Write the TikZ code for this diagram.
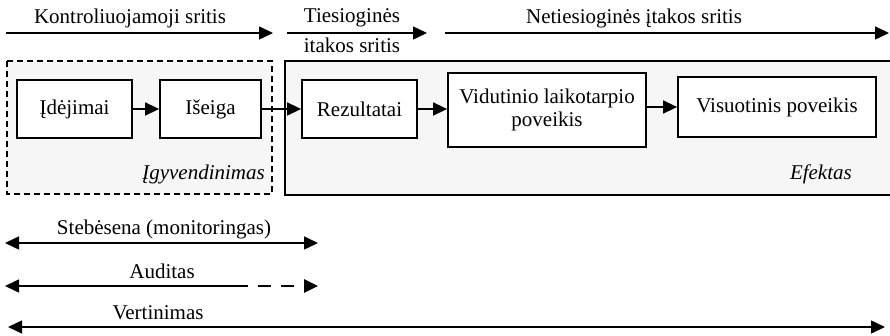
\documentclass[tikz,border=0pt]{standalone}
\usepackage{fontspec}
\setmainfont{Liberation Serif}
\usetikzlibrary{arrows.meta}
\begin{document}
\begin{tikzpicture}[x=1pt,y=-1pt,
  font=\fontsize{21}{23}\selectfont,
  tip/.style={-{Triangle[length=14pt,width=13pt]}},
  box/.style={draw,line width=1.8pt,fill=white,minimum height=58pt,inner sep=0pt},
  area/.style={line width=1.5pt,fill=gray!7},
  conn/.style={line width=1.5pt,tip},
  lbl/.style={inner sep=0pt,anchor=base}]
\useasboundingbox (0,0) rectangle (890,336);
% areas
\draw[area,dashed,dash pattern=on 6pt off 4pt] (7,61) rectangle (272,194);
\draw[area] (285,61) rectangle (891,195);
% boxes
\node[box,minimum width=115pt] (ide) at (74.5,109) {Įdėjimai};
\node[box,minimum width=101pt] (ise) at (210.5,109) {Išeiga};
\node[box,minimum width=115pt] (rez) at (359.5,109) {Rezultatai};
\node[box,minimum width=198pt,minimum height=74pt,align=center] (vid) at (547,110) {Vidutinio laikotarpio\\poveikis};
\node[box,minimum width=198pt,minimum height=60pt] (vis) at (777,107) {Visuotinis poveikis};
\draw[conn] (ide) -- (ise);
\draw[conn] (ise) -- (rez);
\draw[conn] (rez) -- (rez -| vid.west);
\draw[conn] (vid.east |- vis.west) -- (vis.west);
% area labels
\node[lbl,anchor=base east,font=\fontsize{21}{23}\selectfont\itshape] (igy) at (265,180) {Įgyvendinimas};
\node[lbl,anchor=base east,font=\fontsize{21}{23}\selectfont\itshape] (efk) at (852,180) {Efektas};
% top arrows
\coordinate (a1s) at (6,33); \coordinate (a1e) at (273,33);
\coordinate (a2s) at (287,33); \coordinate (a2e) at (427,33);
\coordinate (a3s) at (445,33); \coordinate (a3e) at (889,33);
\draw[conn] (a1s) -- (a1e);
\draw[conn] (a2s) -- (a2e);
\draw[conn] (a3s) -- (a3e);
\node[lbl] (t1) at (130,24) {Kontroliuojamoji sritis};
\node[lbl] (t2a) at (352,23) {Tiesioginės};
\node[lbl] (t2b) at (352,53) {itakos sritis};
\node[lbl] (t3) at (634,24) {Netiesioginės įtakos sritis};
% bottom arrows
\coordinate (b1s) at (5,243); \coordinate (b1e) at (318,243);
\draw[line width=1.5pt,{Triangle[length=14pt,width=13pt]}-{Triangle[length=14pt,width=13pt]}] (b1s) -- (b1e);
\node[lbl] (s1) at (164,235) {Stebėsena (monitoringas)};
\coordinate (b2s) at (5,286); \coordinate (b2m) at (235,286); \coordinate (b2e) at (318,286);
\draw[line width=1.5pt,{Triangle[length=14pt,width=13pt]}-] (b2s) -- (b2m);
\draw[line width=2.8pt,dash pattern=on 13pt off 10pt,-{Triangle[length=14pt,width=13pt]}] (b2m) -- (b2e);
\node[lbl] (s2) at (162,279) {Auditas};
\coordinate (b3s) at (8,327); \coordinate (b3e) at (885,327);
\draw[line width=1.5pt,{Triangle[length=14pt,width=13pt]}-{Triangle[length=14pt,width=13pt]}] (b3s) -- (b3e);
\node[lbl] (s3) at (158,319) {Vertinimas};
\end{tikzpicture}
\end{document}
